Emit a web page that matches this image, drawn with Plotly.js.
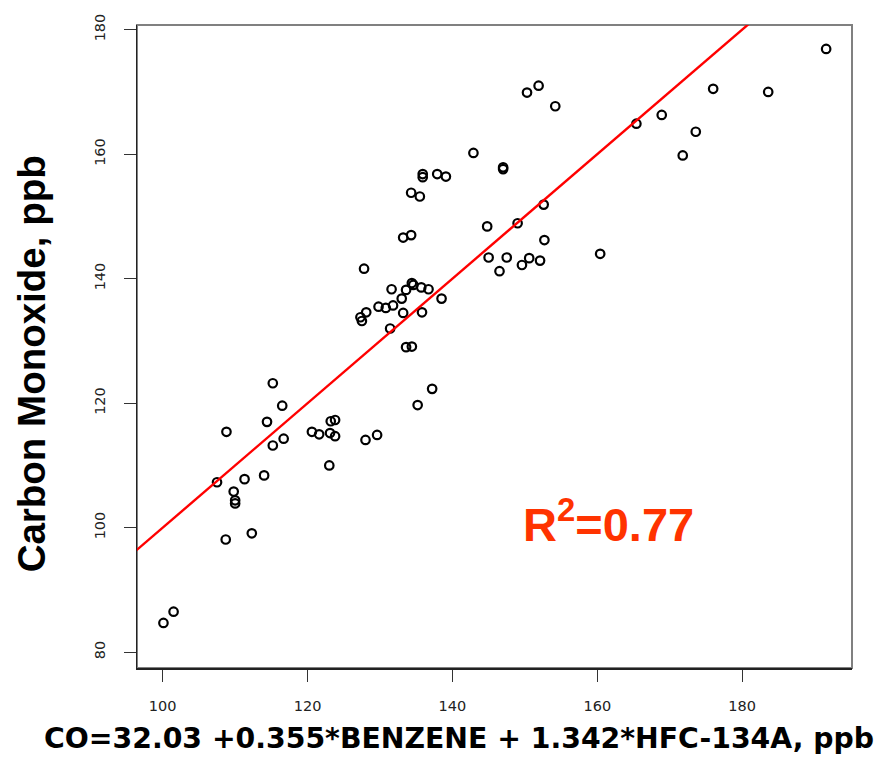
<!DOCTYPE html>
<html>
<head>
<meta charset="utf-8">
<script src="https://cdn.plot.ly/plotly-3.0.1.min.js"></script>
<style>
  html, body { margin: 0; padding: 0; background: #fff; }
  #chart { width: 877px; height: 761px; }
</style>
</head>
<body>
<div id="chart"></div>
<script>
// Modelled CO (from benzene + HFC-134a) against measured CO, ppb
const modelledCO = [
  191.6, 176.0, 183.6, 168.9, 165.4, 173.6, 171.8, 150.3, 151.9, 154.2,
  142.9, 137.9, 139.1, 147.0, 147.0, 152.6, 144.8, 149.0, 152.7, 145.0,
  147.5, 146.5, 149.6, 150.6, 152.1, 160.4, 135.9, 135.9, 134.3, 135.5,
  133.2, 134.3, 127.8, 131.6, 134.4, 133.6, 134.6, 135.7, 136.7, 138.5,
  133.0, 129.8, 130.8, 131.8, 128.1, 127.3, 127.5, 133.2, 135.8, 131.4,
  133.6, 134.4, 137.2, 135.2, 115.2, 116.5, 114.4, 108.8, 116.7, 115.2,
  120.6, 121.6, 123.2, 123.8, 123.1, 123.8, 128.0, 129.6, 123.0, 107.5,
  111.3, 114.0, 109.8, 110.0, 110.0, 108.7, 112.3, 100.1, 101.5
];
const measuredCO = [
  176.9, 170.5, 170.0, 166.3, 164.9, 163.6, 159.8, 169.9, 171.0, 167.7,
  160.2, 156.8, 156.4, 157.9, 157.6, 151.9, 148.4, 148.9, 146.2, 143.4,
  143.4, 141.2, 142.2, 143.3, 142.9, 144.0, 156.8, 156.3, 153.8, 153.2,
  146.6, 147.0, 141.6, 138.3, 139.3, 138.2, 139.0, 138.6, 138.3, 136.8,
  136.8, 135.5, 135.3, 135.7, 134.6, 133.8, 133.2, 134.5, 134.6, 132.0,
  129.0, 129.1, 122.3, 119.7, 123.2, 119.6, 117.0, 115.4, 114.3, 113.2,
  115.4, 115.0, 117.1, 117.3, 115.2, 114.7, 114.1, 114.9, 110.0, 107.3,
  107.8, 108.4, 105.8, 104.4, 103.9, 98.1, 99.1, 84.7, 86.5
];

// 1:1 reference line
const fitIntercept = 0;
const fitSlope = 1;
const fitX = [90, 200];
const fitY = fitX.map(v => fitIntercept + fitSlope * v);

const xTicks = [100, 120, 140, 160, 180];
const yTicks = [80, 100, 120, 140, 160, 180];

const rSquared = '0.77';
const xTitle = 'CO=32.03 +0.355*BENZENE + 1.342*HFC-134A, ppb';
const yTitle = 'Carbon Monoxide, ppb';

const traces = [
  {
    x: modelledCO,
    y: measuredCO,
    type: 'scatter',
    mode: 'markers',
    marker: {
      symbol: 'circle-open',
      size: 8.5,
      color: '#000',
      line: { width: 2.2, color: '#000' }
    },
    hoverinfo: 'x+y'
  },
  {
    x: fitX,
    y: fitY,
    type: 'scatter',
    mode: 'lines',
    line: { color: '#ff0000', width: 2.4 },
    hoverinfo: 'skip'
  }
];

const tickFont = { family: 'DejaVu Sans, Arial, sans-serif', size: 14.5, color: '#222' };

const layout = {
  width: 877,
  height: 761,
  margin: { l: 137, r: 25, t: 25, b: 93, pad: 0 },
  paper_bgcolor: '#fff',
  plot_bgcolor: '#fff',
  showlegend: false,
  xaxis: {
    range: [96.45, 195.17],
    tickvals: xTicks,
    ticktext: xTicks.map(String),
    ticks: 'outside',
    ticklen: 12,
    tickwidth: 1.2,
    tickcolor: '#333',
    showgrid: false,
    zeroline: false,
    showline: true,
    linecolor: '#222',
    linewidth: 1.5,
    tickfont: tickFont,
    ticklabelstandoff: 12
  },
  yaxis: {
    range: [77.46, 180.75],
    tickvals: yTicks,
    ticktext: yTicks.map(String),
    ticks: 'outside',
    ticklen: 12,
    tickwidth: 1.2,
    tickcolor: '#333',
    tickangle: -90,
    showgrid: false,
    zeroline: false,
    showline: true,
    linecolor: '#222',
    linewidth: 1.5,
    tickfont: tickFont,
    ticklabelstandoff: 13
  },
  shapes: [
    {
      type: 'rect', xref: 'paper', yref: 'paper',
      x0: 0, x1: 1, y0: 0, y1: 1,
      line: { color: '#808080', width: 2 },
      layer: 'below'
    }
  ],
  annotations: [
    {
      xref: 'paper', yref: 'paper',
      x: 0.5370, y: 0.229,
      xanchor: 'left', yanchor: 'middle',
      text: '<b>R<sup>2</sup>=' + rSquared + '</b>',
      showarrow: false,
      font: { family: 'Liberation Sans, Arial, sans-serif', size: 47, color: '#ff3300' }
    },
    {
      xref: 'paper', yref: 'paper',
      x: 0.4498, y: -0.110,
      xanchor: 'center', yanchor: 'middle',
      text: '<b>' + xTitle + '</b>',
      showarrow: false,
      font: { family: 'DejaVu Sans, Arial, sans-serif', size: 28.3, color: '#000' }
    },
    {
      xref: 'paper', yref: 'paper',
      x: -0.147, y: 0.4736,
      xanchor: 'center', yanchor: 'middle',
      textangle: -90,
      text: '<b>' + yTitle + '</b>',
      showarrow: false,
      font: { family: 'Liberation Sans, Arial, sans-serif', size: 38.5, color: '#000' }
    }
  ]
};

Plotly.newPlot('chart', traces, layout, { displayModeBar: false, staticPlot: true });
</script>
</body>
</html>
